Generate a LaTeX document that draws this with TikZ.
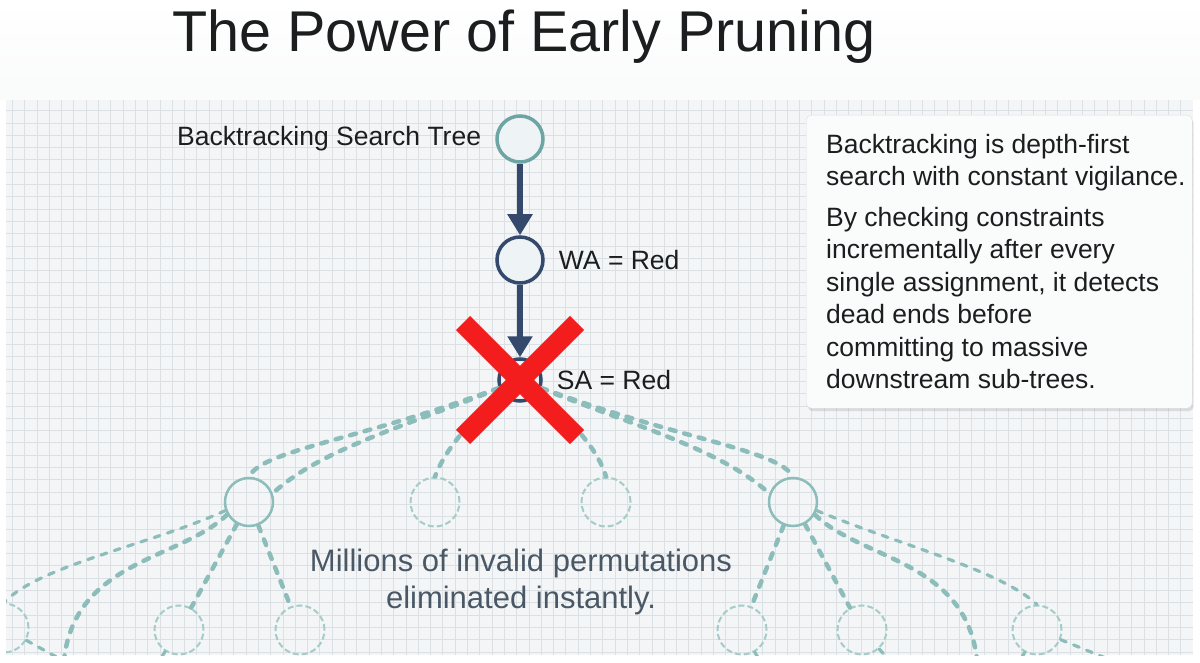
\documentclass[tikz,border=0pt]{standalone}
\usepackage{fontspec}
\setmainfont{Liberation Sans}
\usetikzlibrary{arrows.meta, positioning, shadows}
\definecolor{prInk}{HTML}{1C1D1F}
\definecolor{prSlate}{HTML}{4A5866}
\definecolor{prNavy}{HTML}{34496B}
\definecolor{prTeal}{HTML}{6DA5A4}
\definecolor{prDash}{HTML}{8CBDBB}
\definecolor{prFaint}{HTML}{A6CCCA}
\definecolor{prRed}{HTML}{F41D1D}
\definecolor{prPaper}{HTML}{F3F5F6}
\definecolor{prGrid}{HTML}{DAE0E4}
\definecolor{prFill}{HTML}{EEF3F5}
\tikzset{
  tnode/.style={circle, inner sep=0pt, minimum size=46pt, line width=3.5pt},
  rootn/.style={tnode, draw=prTeal, fill=prFill},
  live/.style={tnode, draw=prNavy, fill=prFill},
  ghost/.style={tnode, draw=prDash, line width=2.5pt, minimum size=48pt},
  faint/.style={tnode, draw=prFaint, line width=2pt, minimum size=49pt, dash pattern=on 6pt off 3pt},
  descend/.style={-{Triangle[length=21pt, width=24pt]}, line width=5.5pt, draw=prNavy},
  pruned/.style={draw=prDash, line width=4.5pt, dash pattern=on 6pt off 9pt, line cap=round},
  prunedthin/.style={pruned, line width=3.2pt, dash pattern=on 6pt off 8pt},
  veto/.style={draw=prRed, line width=20pt},
  lbl/.style={font=\fontsize{26.5}{30}\selectfont, text=prInk, inner sep=0pt},
  panel/.style={draw=prGrid, fill=white!60!prPaper, rounded corners=5pt,
    drop shadow={shadow xshift=1.5pt, shadow yshift=-3pt, opacity=0.22}},
  note/.style={align=left, font=\fontsize{26.5}{32.5}\selectfont, text=prInk, inner sep=0pt},
}

\begin{document}
\begin{tikzpicture}[x=1pt, y=-1pt]
  \useasboundingbox (0,0) rectangle (1200,663);
  \fill[white] (0,0) rectangle (1200,663);
  \shade[top color=white, bottom color=white!55!prPaper] (0,0) rectangle (1200,100);
  \fill[prPaper] (6,100) rectangle (1193,655);
  \draw[prGrid, line width=0.8pt, step=12.3pt] (6,100) grid (1193,655);

  \node[anchor=base west, font=\fontsize{57.5}{60}\selectfont, text=prInk, inner sep=0pt] (title) at (172,52) {The Power of Early Pruning};

  % search path
  \node[rootn] (root) at (520,139) {};
  \node[live] (wa) at (520,260) {};
  \node[live, minimum size=42pt] (sa) at (520,380) {};
  \node[lbl, left=14pt of root] {Backtracking Search Tree};
  \node[lbl, right=14pt of wa] {WA = Red};
  \node[lbl, right=14pt of sa] {SA = Red};
  \draw[descend] (root) -- (wa);
  \draw[descend] (wa) -- (sa);

  % sub-trees that never get explored
  \begin{scope}
    \clip (6,100) rectangle (1193,655);
    \node[ghost] (l1) at (249,502) {};
    \node[faint] (m1) at (435,502) {};
    \node[faint] (m2) at (606,502) {};
    \node[ghost] (r1) at (793,502) {};
    \node[faint] (b0) at (4,628) {};
    \node[faint] (b1) at (179,630) {};
    \node[faint] (b2) at (300,630) {};
    \node[faint] (b3) at (742,630) {};
    \node[faint] (b4) at (862,630) {};
    \node[faint] (b5) at (1037,630) {};
    \coordinate (lfar) at (64,660);
    \coordinate (rfar) at (977,660);

    \draw[pruned] (sa) .. controls (360,440) and (262,450) .. (l1.north);
    \draw[pruned] (sa) .. controls (400,428) and (320,450) .. (l1.20);
    \draw[pruned] (sa) .. controls (470,420) and (445,450) .. (m1.north);
    \draw[pruned] (sa) .. controls (572,420) and (598,450) .. (m2.north);
    \draw[pruned] (sa) .. controls (681,440) and (779,450) .. (r1.north);
    \draw[pruned] (sa) .. controls (641,428) and (721,450) .. (r1.160);

    \draw[pruned] (l1) -- (b1);
    \draw[pruned] (l1) -- (b2);
    \draw[prunedthin] (l1.200) .. controls (150,545) and (40,565) .. (b0.north);
    \draw[pruned] (l1.210) .. controls (180,560) and (75,560) .. (lfar);
    \draw[pruned] (r1) -- (b3);
    \draw[pruned] (r1) -- (b4);
    \draw[prunedthin] (r1.340) .. controls (900,545) and (1000,570) .. (b5.north);
    \draw[pruned] (r1.330) .. controls (861,560) and (966,560) .. (rfar);

    \draw[prunedthin] (b0) -- (80,670);
    \draw[prunedthin] (b1) -- (150,675);
    \draw[prunedthin] (b3) -- (768,675);
    \draw[prunedthin] (b4) -- (900,672);
    \draw[prunedthin] (b5) -- (1012,675);
    \draw[prunedthin] (b5) -- (1130,668);
  \end{scope}

  \node[font=\fontsize{31}{37}\selectfont, text=prSlate, align=center] (verdict) at (521,582) {Millions of invalid permutations\\eliminated instantly.};

  % the cut
  \draw[veto] ([shift={(-57,-57)}]sa.center) -- ([shift={(57,57)}]sa.center);
  \draw[veto] ([shift={(-57,57)}]sa.center) -- ([shift={(57,-57)}]sa.center);

  \node[panel, minimum width=386pt, minimum height=293pt, anchor=north west] (panel) at (806,115) {};
  \node[note, anchor=north west] (note) at (826,134) {Backtracking is depth-first\\search with constant vigilance.\\[8pt]By checking constraints\\incrementally after every\\single assignment, it detects\\dead ends before\\committing to massive\\downstream sub-trees.};
\end{tikzpicture}
\end{document}
